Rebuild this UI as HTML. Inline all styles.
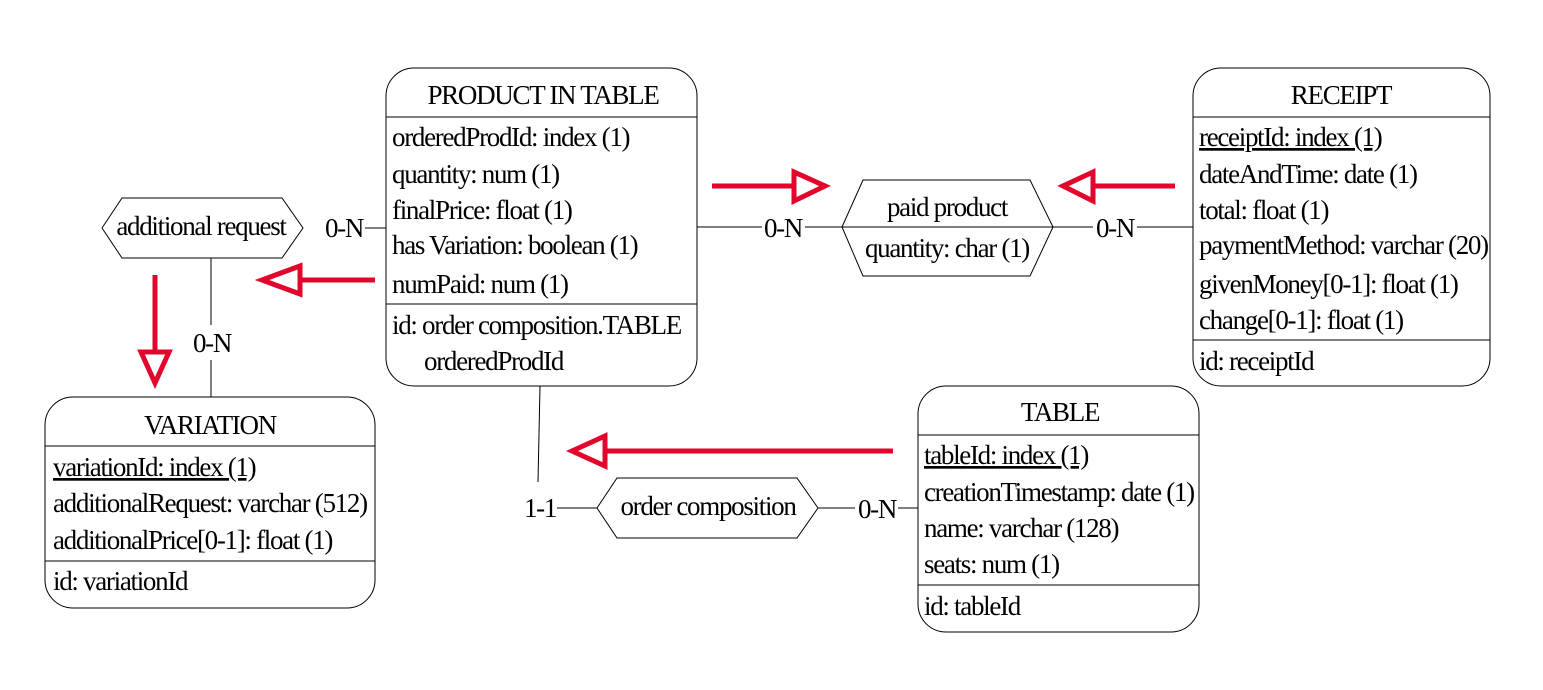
<!DOCTYPE html>
<html><head><meta charset="utf-8"><style>
html,body{margin:0;padding:0;background:#fff}
svg{display:block}
text{font-family:"Liberation Serif",serif;font-size:27px;letter-spacing:-1.3px;fill:#000}
.c{text-anchor:middle}
.u{text-decoration:underline}
</style></head><body>
<svg width="1543" height="690" viewBox="0 0 1543 690" xmlns="http://www.w3.org/2000/svg">
<g fill="none" stroke="#000" stroke-width="1">
<line x1="365" y1="228" x2="386" y2="228"/>
<line x1="211" y1="258" x2="211" y2="325"/>
<line x1="211" y1="360" x2="211" y2="397"/>
<line x1="697" y1="227" x2="762" y2="227"/>
<line x1="805" y1="227" x2="842" y2="227"/>
<line x1="1053" y1="227" x2="1093" y2="227"/>
<line x1="1137" y1="227" x2="1193" y2="227"/>
<line x1="540" y1="386" x2="538" y2="482"/>
<line x1="557" y1="508" x2="597" y2="508"/>
<line x1="818" y1="508" x2="855" y2="508"/>
<line x1="898" y1="508" x2="918" y2="508"/>
<rect x="386" y="68" width="311" height="318" rx="28"/>
<line x1="386" y1="117" x2="697" y2="117"/>
<line x1="386" y1="304" x2="697" y2="304"/>
<rect x="45" y="397" width="330" height="211" rx="28"/>
<line x1="45" y1="446" x2="375" y2="446"/>
<line x1="45" y1="561" x2="375" y2="561"/>
<rect x="1193" y="68" width="297" height="318" rx="28"/>
<line x1="1193" y1="117" x2="1490" y2="117"/>
<line x1="1193" y1="340" x2="1490" y2="340"/>
<rect x="918" y="386" width="281" height="246" rx="28"/>
<line x1="918" y1="435" x2="1199" y2="435"/>
<line x1="918" y1="585" x2="1199" y2="585"/>
<polygon points="102,228 122,198 282,198 303,228 282,258 122,258"/>
<polygon points="842,227 863,180 1030,180 1053,227 1030,276 863,276"/>
<line x1="842" y1="227" x2="1053" y2="227"/>
<polygon points="597,508 617,478 797,478 818,508 797,538 617,538"/>
</g>
<g fill="none" stroke="#e2062c" stroke-width="5">
<line x1="375" y1="280" x2="300" y2="280"/>
<polygon points="262,280 300,266 300,294"/>
<line x1="155" y1="275" x2="155" y2="352"/>
<polygon points="141,352 169,352 155,383"/>
<line x1="712" y1="186" x2="794" y2="186"/>
<polygon points="794,172 794,201 825,186"/>
<line x1="1175" y1="186" x2="1093" y2="186"/>
<polygon points="1093,172 1093,201 1063,186"/>
<line x1="893" y1="451" x2="605" y2="451"/>
<polygon points="572,451 605,436 605,466"/>
</g>
<text x="344" y="237" class="c">0-N</text>
<text x="212" y="352" class="c">0-N</text>
<text x="783" y="237" class="c">0-N</text>
<text x="1115" y="237" class="c">0-N</text>
<text x="540" y="517" class="c">1-1</text>
<text x="877" y="518" class="c">0-N</text>
<text x="201" y="235" class="c">additional request</text>
<text x="947" y="216" class="c">paid product</text>
<text x="947" y="257" class="c">quantity: char (1)</text>
<text x="708" y="515" class="c">order composition</text>

<text x="543" y="104" class="c">PRODUCT IN TABLE</text>
<text x="392" y="146">orderedProdId: index (1)</text>
<text x="392" y="183">quantity: num (1)</text>
<text x="392" y="219">finalPrice: float (1)</text>
<text x="392" y="254">has Variation: boolean (1)</text>
<text x="392" y="293">numPaid: num (1)</text>
<text x="392" y="334">id: order composition.TABLE</text>
<text x="424" y="370">orderedProdId</text>

<text x="210" y="434" class="c">VARIATION</text>
<text x="53" y="476" class="u">variationId: index (1)</text>
<text x="53" y="512">additionalRequest: varchar (512)</text>
<text x="53" y="549">additionalPrice[0-1]: float (1)</text>
<text x="53" y="590">id: variationId</text>

<text x="1341" y="104" class="c">RECEIPT</text>
<text x="1199" y="146" class="u">receiptId: index (1)</text>
<text x="1199" y="183">dateAndTime: date (1)</text>
<text x="1199" y="219">total: float (1)</text>
<text x="1199" y="254">paymentMethod: varchar (20)</text>
<text x="1199" y="293">givenMoney[0-1]: float (1)</text>
<text x="1199" y="329">change[0-1]: float (1)</text>
<text x="1199" y="370">id: receiptId</text>

<text x="1060" y="421" class="c">TABLE</text>
<text x="924" y="464" class="u">tableId: index (1)</text>
<text x="924" y="501">creationTimestamp: date (1)</text>
<text x="924" y="537">name: varchar (128)</text>
<text x="924" y="573">seats: num (1)</text>
<text x="924" y="615">id: tableId</text>
</svg>
</body></html>
